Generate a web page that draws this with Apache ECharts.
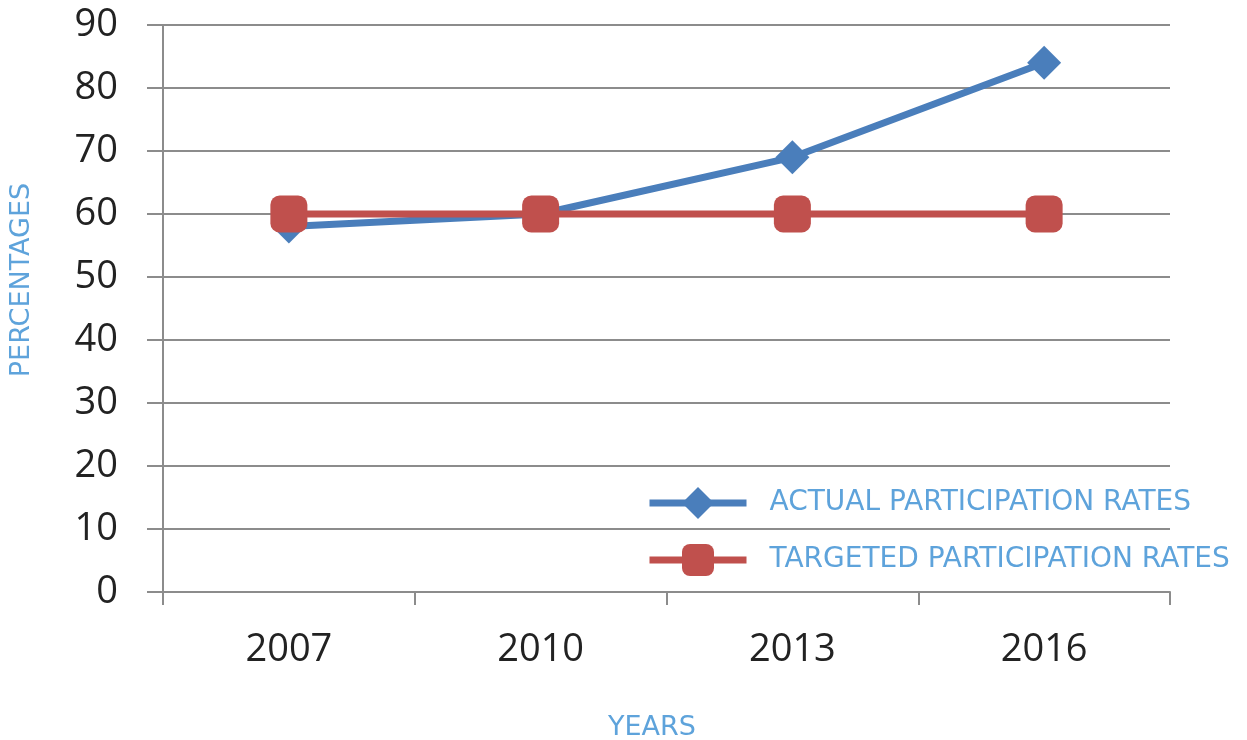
<!DOCTYPE html>
<html>
<head>
<meta charset="utf-8">
<script src="https://cdn.jsdelivr.net/npm/echarts@6/dist/echarts.min.js"></script>
<style>
  html, body { margin: 0; padding: 0; background: #fff; }
  #chart { width: 1247px; height: 740px; }
</style>
</head>
<body>
<div id="chart"></div>
<script>
const years = ['2007', '2010', '2013', '2016'];
const actualRates = [58, 60, 69, 84];
const targetedRates = [60, 60, 60, 60];

const blue = '#4a7ebb';
const red = '#c0504d';
const nameColor = '#5ea3db';
const gridGray = '#8c8c8c';

const chart = echarts.init(document.getElementById('chart'));

const option = {
  backgroundColor: '#fff',
  animation: false,
  grid: {
    left: 163,
    right: 77,
    top: 25,
    bottom: 148,
    containLabel: false,
    outerBoundsMode: 'none'
  },
  graphic: [
    {
      type: 'text',
      x: 22,
      y: 280,
      rotation: Math.PI / 2,
      style: {
        text: 'PERCENTAGES',
        fill: nameColor,
        fontFamily: 'DejaVu Sans',
        fontSize: 27,
        align: 'center',
        verticalAlign: 'middle'
      }
    },
    {
      type: 'text',
      x: 652,
      y: 728,
      style: {
        text: 'YEARS',
        fill: nameColor,
        fontFamily: 'DejaVu Sans',
        fontSize: 27,
        align: 'center',
        verticalAlign: 'middle'
      }
    }
  ],
  legend: {
    orient: 'vertical',
    left: 641,
    top: 482,
    itemWidth: 97,
    itemHeight: 40,
    itemGap: 25,
    lineStyle: { width: 7 },
    textStyle: {
      color: nameColor,
      fontFamily: 'DejaVu Sans',
      fontSize: 28,
      padding: [0, 0, 0, 18]
    },
    data: ['ACTUAL PARTICIPATION RATES', 'TARGETED PARTICIPATION RATES']
  },
  xAxis: {
    type: 'category',
    data: years,
    boundaryGap: true,
    axisLine: { lineStyle: { color: gridGray, width: 2 } },
    axisTick: { show: true, length: 13, lineStyle: { color: gridGray, width: 2 } },
    axisLabel: {
      color: '#222',
      fontFamily: 'Open Sans',
      fontSize: 38,
      margin: 39
    }
  },
  yAxis: {
    type: 'value',
    min: 0,
    max: 90,
    interval: 10,
    axisLine: { show: true, lineStyle: { color: gridGray, width: 2 } },
    axisTick: { show: true, length: 16, lineStyle: { color: gridGray, width: 2 } },
    axisLabel: {
      color: '#222',
      fontFamily: 'Open Sans',
      fontSize: 38,
      margin: 45
    },
    splitLine: { lineStyle: { color: gridGray, width: 2 } }
  },
  series: [
    {
      name: 'ACTUAL PARTICIPATION RATES',
      type: 'line',
      data: actualRates,
      symbol: 'diamond',
      symbolSize: 34,
      lineStyle: { color: blue, width: 7 },
      itemStyle: { color: blue }
    },
    {
      name: 'TARGETED PARTICIPATION RATES',
      type: 'line',
      data: targetedRates,
      symbol: 'roundRect',
      symbolSize: 37,
      lineStyle: { color: red, width: 7 },
      itemStyle: { color: red, borderRadius: 2 }
    }
  ]
};

chart.setOption(option);
</script>
</body>
</html>
